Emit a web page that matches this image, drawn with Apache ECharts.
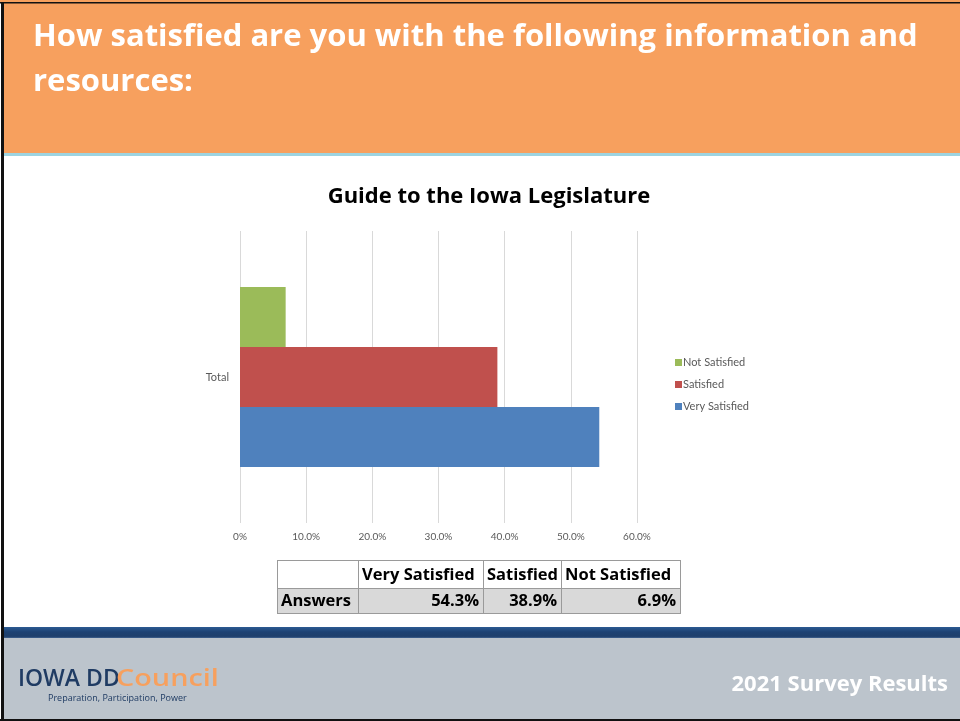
<!DOCTYPE html>
<html>
<head>
<meta charset="utf-8">
<title>Guide to the Iowa Legislature</title>
<script src="https://cdn.jsdelivr.net/npm/echarts@6/dist/echarts.min.js"></script>
<style>
  html, body { margin: 0; padding: 0; background: #ffffff; }
  #chart { width: 960px; height: 721px; }
</style>
</head>
<body>
<div id="chart"></div>
<script>
// Survey data: one category, three answer groups (percent of answers)
const categories = ['Total'];
const seriesNames = ['Very Satisfied', 'Satisfied', 'Not Satisfied'];
const seriesValues = [54.3, 38.9, 6.9];
const axisTicks = [0, 10, 20, 30, 40, 50, 60];
const legendOrder = ['Not Satisfied', 'Satisfied', 'Very Satisfied'];
const tableRowLabel = 'Answers';

const headerLines = ['How satisfied are you with the following information and', 'resources:'];
const chartTitle = 'Guide to the Iowa Legislature';
const footerText = '2021 Survey Results';

const seriesColors = {
  'Very Satisfied': '#4F81BD',
  'Satisfied': '#C0504D',
  'Not Satisfied': '#9BBB59'
};
const FONT = '"Open Sans", Lato, sans-serif';
const SMALL_FONT = 'Lato, "Open Sans", sans-serif';

const chart = echarts.init(document.getElementById('chart'), null, { renderer: 'canvas' });

function tickLabel(v) {
  return v === 0 ? '0%' : v.toFixed(1) + '%';
}

// Summary table under the chart
const colX = [277, 358, 483, 561, 680];
const rowY = [560, 588, 613];
const tableEls = [];
tableEls.push({ type: 'rect', shape: { x: colX[0], y: rowY[1], width: colX[4] - colX[0], height: rowY[2] - rowY[1] }, style: { fill: '#D9D9D9' } });
for (let i = 0; i < colX.length; i++) {
  tableEls.push({ type: 'line', shape: { x1: colX[i] + 0.5, y1: rowY[0], x2: colX[i] + 0.5, y2: rowY[2] }, style: { stroke: '#9A9A9A', lineWidth: 1 } });
}
for (let j = 0; j < rowY.length; j++) {
  tableEls.push({ type: 'line', shape: { x1: colX[0], y1: rowY[j] + 0.5, x2: colX[4] + 1, y2: rowY[j] + 0.5 }, style: { stroke: '#9A9A9A', lineWidth: 1 } });
}
const cellFont = 'bold 16.5px ' + FONT;
seriesNames.forEach(function (name, i) {
  tableEls.push({ type: 'text', style: { x: colX[i + 1] + 4, y: (rowY[0] + rowY[1]) / 2 + 1, text: name, font: cellFont, fill: '#000000', align: 'left', verticalAlign: 'middle' } });
  tableEls.push({ type: 'text', style: { x: colX[i + 2] - 4, y: (rowY[1] + rowY[2]) / 2 + 1, text: seriesValues[i].toFixed(1) + '%', font: cellFont, fill: '#000000', align: 'right', verticalAlign: 'middle' } });
});
tableEls.push({ type: 'text', style: { x: colX[0] + 4, y: (rowY[1] + rowY[2]) / 2 + 1, text: tableRowLabel, font: cellFont, fill: '#000000', align: 'left', verticalAlign: 'middle' } });

// Slide frame: header, footer band, logo
const frameEls = [
  { type: 'rect', shape: { x: 0, y: 0, width: 960, height: 2 }, style: { fill: '#F6A05D' } },
  { type: 'rect', shape: { x: 3, y: 3, width: 957, height: 150 }, style: { fill: '#F7A05E' } },
  { type: 'rect', shape: { x: 3, y: 153, width: 957, height: 3 }, style: { fill: '#9DD4E1' } },
  { type: 'rect', shape: { x: 3, y: 627, width: 957, height: 11 }, style: { fill: new echarts.graphic.LinearGradient(0, 0, 0, 1, [
      { offset: 0, color: '#2B5A92' }, { offset: 0.45, color: '#1D4273' }, { offset: 0.85, color: '#1E3F6C' }, { offset: 1, color: '#40628F' }
    ]) } },
  { type: 'rect', shape: { x: 3, y: 638, width: 957, height: 81 }, style: { fill: '#BCC4CC' } },
  { type: 'rect', shape: { x: 0, y: 2, width: 960, height: 1.5 }, style: { fill: '#111111' } },
  { type: 'rect', shape: { x: 1, y: 2, width: 3, height: 718 }, style: { fill: '#111111' } },
  { type: 'rect', shape: { x: 0, y: 719, width: 960, height: 2 }, style: { fill: '#111111' } },
  { type: 'text', style: { x: 33, y: 37, text: headerLines[0], font: 'bold 31px ' + FONT, fill: '#FFFFFF', verticalAlign: 'middle' } },
  { type: 'text', style: { x: 33, y: 82, text: headerLines[1], font: 'bold 31px ' + FONT, fill: '#FFFFFF', verticalAlign: 'middle' } },
  { type: 'text', x: 18, y: 679, style: { x: 0, y: 0, text: 'IOWA DD', font: '600 23px ' + FONT, fill: '#1F3B63', verticalAlign: 'middle' } },
  { type: 'text', x: 116, y: 679, scaleX: 1.2, style: { x: 0, y: 0, text: 'Council', font: '600 24px ' + FONT, fill: '#F7A05E', verticalAlign: 'middle' } },
  { type: 'text', style: { x: 48, y: 698, text: 'Preparation, Participation, Power', font: '9px ' + FONT, fill: '#1F3B63', verticalAlign: 'middle' } },
  { type: 'text', style: { x: 948, y: 685, text: footerText, font: 'bold 22px ' + FONT, fill: '#FFFFFF', align: 'right', verticalAlign: 'middle' } }
];

// Horizontal bars stack their series upward from the axis, so feed them in legend order
const barOrder = legendOrder.slice();

const option = {
  backgroundColor: '#FFFFFF',
  animation: false,
  title: {
    text: chartTitle,
    left: 484,
    top: 181,
    textAlign: 'center',
    textStyle: { fontFamily: FONT, fontWeight: 'bold', fontSize: 22, color: '#000000' }
  },
  legend: {
    data: legendOrder,
    orient: 'vertical',
    left: 670,
    top: 352,
    itemWidth: 7,
    itemHeight: 7,
    itemGap: 11,
    icon: 'rect',
    textStyle: { fontFamily: SMALL_FONT, fontSize: 11, color: '#595959', padding: [0, 0, 0, -4] }
  },
  grid: { left: 240, right: 323, top: 231, bottom: 198, containLabel: false },
  xAxis: {
    type: 'value',
    min: axisTicks[0],
    max: axisTicks[axisTicks.length - 1],
    interval: axisTicks[1] - axisTicks[0],
    axisLine: { show: false },
    axisTick: { show: false },
    splitLine: { lineStyle: { color: '#D9D9D9', width: 1 } },
    axisLabel: { formatter: tickLabel, fontFamily: SMALL_FONT, fontSize: 10, color: '#595959', margin: 9 }
  },
  yAxis: {
    type: 'category',
    data: categories,
    axisLine: { show: false },
    axisTick: { show: false },
    axisLabel: { fontFamily: SMALL_FONT, fontSize: 11, color: '#595959', margin: 11 }
  },
  series: barOrder.map(function (name) {
    return {
      name: name,
      type: 'bar',
      data: [seriesValues[seriesNames.indexOf(name)]],
      barWidth: 60,
      barGap: '0%',
      itemStyle: { color: seriesColors[name] }
    };
  }),
  graphic: frameEls.concat(tableEls)
};

chart.setOption(option);
</script>
</body>
</html>
